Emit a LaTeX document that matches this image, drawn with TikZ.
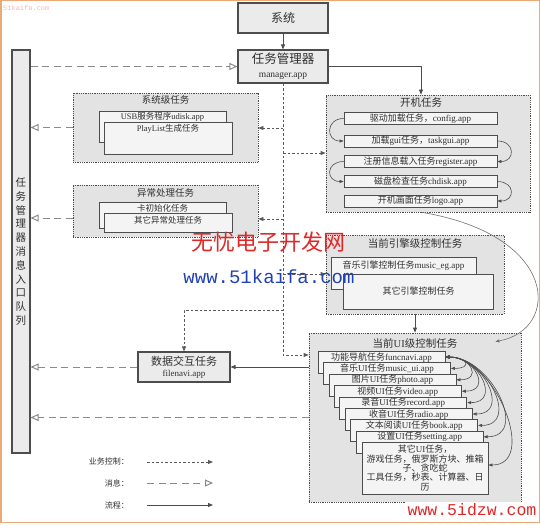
\documentclass[tikz,border=0pt]{standalone}
\usepackage{fontspec}
\setmainfont{Liberation Serif}
\newfontfamily\cjk{Noto Sans CJK SC}
\newfontfamily\wmmono{Liberation Mono}
\usetikzlibrary{arrows.meta}
\newcommand{\zh}[1]{{\cjk #1}}
\newcommand{\fs}[2]{\fontsize{#1}{#2}\selectfont}
\definecolor{framec}{HTML}{EDA877}
\definecolor{boxfill}{HTML}{EBEBEB}
\definecolor{grpfill}{HTML}{E3E3E3}
\definecolor{innerc}{HTML}{F4F4F4}
\definecolor{edgec}{HTML}{4D4D4D}
\definecolor{txt}{HTML}{303030}
\definecolor{arrowc}{HTML}{5A5A5A}
\definecolor{msgc}{HTML}{8A8A8A}
\definecolor{wmred}{HTML}{E02828}
\definecolor{wmblue}{HTML}{2242B0}
\definecolor{wmpink}{HTML}{F0B8B8}
\tikzset{
  mainbox/.style={draw=edgec, fill=boxfill, line width=1.1pt, inner sep=0pt, align=center, text=txt},
  grp/.style={draw=edgec, densely dotted, fill=grpfill, line width=0.8pt, inner sep=0pt},
  ibox/.style={draw=edgec, fill=innerc, line width=0.8pt, inner sep=0pt},
  lbl/.style={inner sep=0pt, text=txt, font=\fs{8.5}{10}},
  uilbl/.style={inner sep=0pt, text=txt, font=\fs{9}{10}},
  ttl/.style={inner sep=0pt, text=txt, font=\cjk\fs{10.5}{12}},
  biz/.style={draw=arrowc, dash pattern=on 2.5pt off 2pt, line width=0.8pt, -{Triangle[length=5pt,width=4pt]}},
  msg/.style={draw=msgc, dash pattern=on 7pt off 4.5pt, line width=1pt, -{Triangle[open,length=8pt,width=7pt]}},
  flow/.style={draw=edgec, line width=0.8pt, -{Triangle[length=5pt,width=4pt]}},
  flowc/.style={draw=edgec, line width=0.6pt, -{Triangle[length=4pt,width=3pt]}},
  dual/.style={draw=edgec, line width=0.6pt, {Triangle[length=4pt,width=3pt]}-{Triangle[length=4pt,width=3pt]}},
  lgd/.style={inner sep=0pt, text=txt, font=\cjk\fs{8}{9}, anchor=east},
}
\begin{document}
\begin{tikzpicture}[x=1pt,y=-1pt]
\useasboundingbox (0,0) rectangle (540,524);
\draw[framec, line width=1.5pt] (0.75,0.75) rectangle (539.25,522.5);

% main boxes
\node[mainbox, minimum width=90pt, minimum height=30pt, font=\cjk\fs{12}{14}] (sys) at (283,18) {系统};
\node[mainbox, minimum width=90pt, minimum height=33pt, font=\fs{10}{13.5}] (manager) at (283,66.5) {\zh{\fs{12.5}{14}任务管理器}\\{\fs{9.5}{11}manager.app}};
\node[mainbox, minimum width=18pt, minimum height=403pt, font=\cjk\fs{10.5}{13.8}] (bar) at (21,251.5) {任\\务\\管\\理\\器\\消\\息\\入\\口\\队\\列};
\node[mainbox, minimum width=92pt, minimum height=30pt, font=\fs{9}{11}] (data) at (184,367) {\zh{\fs{11}{13}数据交互任务}\\{\fs{9}{10}filenavi.app}};

% system-level tasks
\node[grp, minimum width=185pt, minimum height=69pt] (sysg) at (165.5,127.5) {};
\node[ttl, font=\cjk\fs{9.5}{11}] (sysT) at (165.5,100) {系统级任务};
\node[ibox, minimum width=127pt, minimum height=31pt] (sysA) at (162.5,126.5) {};
\node[lbl] (sysAt) at (162.5,117) {USB\zh{服务程序}udisk.app};
\node[ibox, minimum width=128pt, minimum height=32pt] (sysB) at (168,138) {};
\node[lbl] (sysBt) at (168,129) {PlayList\zh{生成任务}};

% exception tasks
\node[grp, minimum width=185pt, minimum height=52pt] (excg) at (165.5,211) {};
\node[ttl, font=\cjk\fs{9.5}{11}] (excT) at (165.5,193) {异常处理任务};
\node[ibox, minimum width=127pt, minimum height=26pt] (excA) at (162.5,215) {};
\node[lbl] (excAt) at (162.5,208) {\zh{卡初始化任务}};
\node[ibox, minimum width=128pt, minimum height=19pt] (excB) at (168,222.5) {};
\node[lbl] (excBt) at (168,220) {\zh{其它异常处理任务}};

% boot tasks
\node[grp, minimum width=204pt, minimum height=117pt] (boot) at (428,153.5) {};
\node[ttl] (bootT) at (421,103) {开机任务};
\node[ibox, minimum width=153pt, minimum height=12pt, lbl, font=\fs{9}{10}] (b1) at (420.5,118.5) {\zh{驱动加载任务，}config.app};
\node[ibox, minimum width=153pt, minimum height=12pt, lbl, font=\fs{9}{10}] (b2) at (420.5,141) {\zh{加载}gui\zh{任务，}taskgui.app};
\node[ibox, minimum width=153pt, minimum height=12pt, lbl, font=\fs{9}{10}] (b3) at (420.5,161.5) {\zh{注册信息载入任务}register.app};
\node[ibox, minimum width=153pt, minimum height=12pt, lbl, font=\fs{9}{10}] (b4) at (420.5,181.5) {\zh{磁盘检查任务}chdisk.app};
\node[ibox, minimum width=153pt, minimum height=12pt, lbl, font=\fs{9}{10}] (b5) at (420.5,201) {\zh{开机画面任务}logo.app};
\draw[flowc] (b1.west) .. controls +(-18,0) and +(-18,0) .. (b2.west);
\draw[flowc] (b2.east) .. controls +(18,0) and +(18,0) .. (b3.east);
\draw[flowc] (b3.west) .. controls +(-18,0) and +(-18,0) .. (b4.west);
\draw[flowc] (b4.east) .. controls +(18,0) and +(18,0) .. (b5.east);

% engine tasks
\node[grp, minimum width=178pt, minimum height=79pt] (eng) at (415,274.5) {};
\node[ttl] (engT) at (415,243) {当前引擎级控制任务};
\node[ibox, minimum width=145pt, minimum height=32pt] (engA) at (403.5,273.5) {};
\node[lbl, font=\fs{9}{10}] (engAt) at (403.5,266) {\zh{音乐引擎控制任务}music\_eg.app};
\node[ibox, minimum width=150pt, minimum height=35pt, lbl, font=\cjk\fs{9}{10}] (engB) at (418.5,291.5) {其它引擎控制任务};

% UI tasks
\node[grp, minimum width=212pt, minimum height=169pt] (ui) at (415,417.5) {};
\node[ttl, font=\fs{10.5}{12}] (uiT) at (415,343) {\zh{当前}UI\zh{级控制任务}};
\foreach \k/\t in {1/{\zh{功能导航任务}funcnavi.app},
                   2/{\zh{音乐}UI\zh{任务}music\_ui.app},
                   3/{\zh{图片}UI\zh{任务}photo.app},
                   4/{\zh{视频}UI\zh{任务}video.app},
                   5/{\zh{录音}UI\zh{任务}record.app},
                   6/{\zh{收音}UI\zh{任务}radio.app},
                   7/{\zh{文本阅读}UI\zh{任务}book.app},
                   8/{\zh{设置}UI\zh{任务}setting.app}} {
  \pgfmathsetmacro\cx{381.5+5.45*(\k-1)}
  \pgfmathsetmacro\ty{351+11.4*(\k-1)}
  \node[ibox, minimum width=127pt, minimum height=22pt, anchor=north] (u\k) at (\cx,\ty) {};
  \node[uilbl] (ut\k) at (\cx,\ty+6.2) {\t};
}
\node[ibox, minimum width=126pt, minimum height=52pt, align=center, text=txt, font=\fs{9}{9.4}] (u9) at (425,468)
  {\zh{其它}UI\zh{任务，}\\\zh{游戏任务，俄罗斯方块、推箱}\\\zh{子、贪吃蛇}\\\zh{工具任务，秒表、计算器、日}\\\zh{历}};
\foreach \k in {2,...,8} {
  \pgfmathsetmacro\dd{22+4*(\k-2)}
  \draw[dual] ([yshift=-6pt]u1.north east) .. controls +(\dd,0) and +(\dd,0) .. ([yshift=-6pt]u\k.north east);
}
\draw[dual] ([yshift=-6pt]u1.north east) .. controls +(50,0) and +(50,0) .. ([yshift=3pt]u9.east);

% business control (dashed, filled head)
\coordinate (jn) at (283,355);
\coordinate (m1) at (283,128);
\coordinate (m2) at (283,153);
\coordinate (m3) at (283,219);
\coordinate (m4) at (283,274);
\coordinate (m5) at (283,310);
\draw[biz] (manager.south) |- (ui.west |- jn);
\draw[biz] (m1) -- (sysg.east |- m1);
\draw[biz] (m2) -- (boot.west |- m2);
\draw[biz] (m3) -- (excg.east |- m3);
\draw[biz] (m4) -- (eng.west |- m4);
\draw[biz] (m5) -| (data.north);

% flow (solid)
\draw[flow] (sys.south) -- (manager.north);
\draw[flow] (manager.east) -| ([xshift=-7pt]boot.north);
\draw[flow] (eng.south) -- (ui.north);
\draw[flow] (ui.west |- data.east) -- (data.east);
\draw[draw=edgec!80, line width=0.6pt, -{Triangle[length=4pt,width=3pt]}] ([xshift=-6pt]boot.south) .. controls +(138,23) and +(65,-12) .. ([xshift=-26pt,yshift=-9pt]ui.north east);

% messages (long dashed, open head)
\draw[msg] (bar.east |- manager.west) -- (manager.west);
\draw[msg] (sysg.west) -- (bar.east |- sysg.west);
\draw[msg] ([yshift=-7pt]excg.west) -- (bar.east |- 0,218);
\draw[msg] (data.west) -- (bar.east |- data.west);
\draw[msg] (ui.west) -- (bar.east |- ui.west);

% legend
\node[lgd] (lg1) at (129,461) {业务控制：};
\node[lgd] (lg2) at (129,483) {消息：};
\node[lgd] (lg3) at (129,505) {流程：};
\draw[biz] ([xshift=18pt,yshift=-1pt]lg1.east) -- +(66,0);
\draw[msg] ([xshift=18pt]lg2.east) -- +(66,0);
\draw[flow] ([xshift=18pt]lg3.east) -- +(66,0);

% watermarks
\node[font=\cjk\fs{22}{24}, text=wmred, inner sep=0pt] (wm1) at (268.5,242) {无忧电子开发网};
\node[font=\wmmono\fs{19}{20}, text=wmblue, inner sep=0pt] (wm2) at (269,277) {www.51kaifa.com};
\node[font=\wmmono\fs{16.5}{18}, text=wmred, fill=white, inner sep=2pt] (wm3) at (472,510) {www.5idzw.com};
\node[font=\wmmono\fs{7}{8}, text=wmpink, anchor=west, inner sep=0pt] (wm0) at (3,8) {51kaifa.com};
\end{tikzpicture}
\end{document}
